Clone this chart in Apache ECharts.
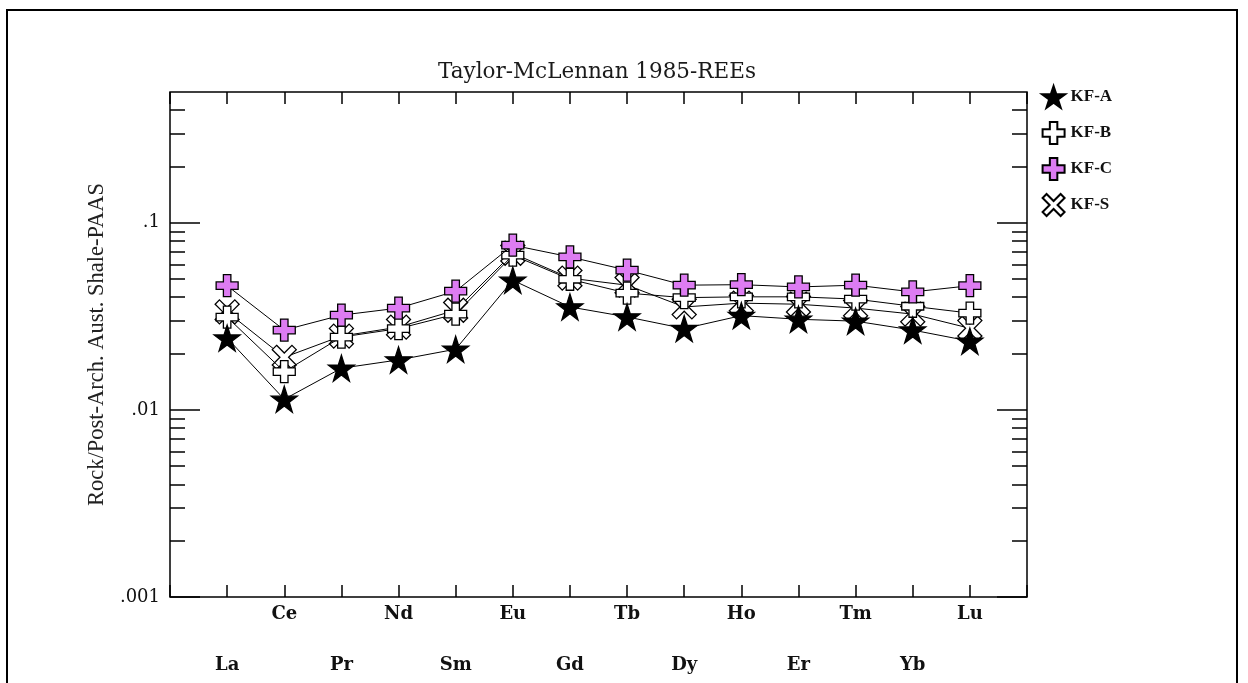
<!DOCTYPE html>
<html>
<head>
<meta charset="utf-8">
<script src="https://cdn.jsdelivr.net/npm/echarts@6/dist/echarts.min.js"></script>
<style>
html,body{margin:0;padding:0;background:#fff;}
#frame{position:absolute;left:6px;top:9px;width:1232px;height:690px;border:2px solid #000;box-sizing:border-box;}
#chart{position:absolute;left:0;top:0;width:1248px;height:683px;}
</style>
</head>
<body>
<div id="frame"></div>
<div id="chart"></div>
<script>
const categories = ['La','Ce','Pr','Nd','Sm','Eu','Gd','Tb','Dy','Ho','Er','Tm','Yb','Lu'];
const kfA = [0.0242,0.0114,0.0167,0.0185,0.0211,0.0493,0.0355,0.0314,0.0272,0.0319,0.0305,0.0298,0.0267,0.0233];
const kfB = [0.0313,0.0160,0.0245,0.0272,0.0325,0.0671,0.0499,0.0421,0.0398,0.0402,0.0402,0.0391,0.0358,0.0329];
const kfC = [0.0461,0.0267,0.0321,0.0350,0.0431,0.0759,0.0657,0.0558,0.0464,0.0467,0.0454,0.0464,0.0427,0.0461];
const kfS = [0.0334,0.0191,0.0248,0.0277,0.0341,0.0687,0.0506,0.0464,0.0355,0.0372,0.0367,0.0350,0.0325,0.0273];
const yMajorTicks = [0.001, 0.01, 0.1];
const yTickLabels = ['.001', '.01', '.1'];
const yMinorTicks = [0.002,0.003,0.004,0.005,0.006,0.007,0.008,0.009,
                     0.02,0.03,0.04,0.05,0.06,0.07,0.08,0.09,
                     0.2,0.3,0.4];

const SERIF = 'Liberation Serif';
const WIDE = 'DejaVu Serif';
const starPath = 'path://M50,0 L61.8,35.4 L99,35.4 L69,57.3 L80.4,93 L50,71 L19.6,93 L31,57.3 L1,35.4 L38.2,35.4 Z';
const plusPath = 'path://M33,0 H67 V33 H100 V67 H67 V100 H33 V67 H0 V33 H33 Z';
const xPath = 'path://M18,0 L50,32 L82,0 L100,18 L68,50 L100,82 L82,100 L50,68 L18,100 L0,82 L32,50 L0,18 Z';

const chart = echarts.init(document.getElementById('chart'), null, {renderer:'canvas'});

function mk(name, vals, symbol, fill, size, z){
  return {
    name: name, type: 'line', xAxisIndex: 0, yAxisIndex: 0,
    data: vals.map((v,i)=>[i+1, v]),
    symbol: symbol, symbolSize: size, showSymbol: true,
    lineStyle: {color:'#000', width:1},
    itemStyle: {color: fill, borderColor:'#000', borderWidth:1.3},
    emphasis: {disabled:true}, animation:false, z: z
  };
}

const axisCommonY = {
  type:'log', logBase:10, min:0.001, max:0.5, gridIndex:0,
  axisLine:{show:false}, splitLine:{show:false}, minorTick:{show:false}, minorSplitLine:{show:false}
};
const axisCommonX = {
  type:'value', min:0, max:15, interval:1, gridIndex:0,
  axisLine:{show:false}, splitLine:{show:false}
};
function tickAxis(pos, len, vals){
  return Object.assign({}, axisCommonY, {
    position:pos,
    axisTick:{show:true, inside:true, length:len, customValues:vals, lineStyle:{color:'#000', width:1.5}},
    axisLabel:{show:false}
  });
}

chart.setOption({
  animation:false,
  backgroundColor:'transparent',
  textStyle:{fontFamily:SERIF},
  title:{
    text:'Taylor-McLennan 1985-REEs', left:592, textAlign:'center', top:56,
    textStyle:{fontFamily:WIDE, fontSize:21.5, fontWeight:'normal', color:'#1a1a1a'}
  },
  legend:{
    orient:'vertical', left:1036, top:80, itemGap:12, itemWidth:24, itemHeight:22,
    textStyle:{fontFamily:SERIF, fontSize:17, fontWeight:'bold', color:'#111'},
    data:[
      {name:'KF-A', icon:starPath},
      {name:'KF-B', icon:plusPath},
      {name:'KF-C', icon:plusPath},
      {name:'KF-S', icon:xPath}
    ]
  },
  grid:{left:170, top:92, right:221, bottom:86, show:true, borderColor:'#000', borderWidth:1.5, backgroundColor:'transparent', containLabel:false},
  xAxis:[
    Object.assign({}, axisCommonX, {
      position:'bottom',
      axisTick:{show:true, inside:true, length:12, lineStyle:{color:'#000', width:1.5}},
      axisLabel:{show:true, margin:59, fontFamily:WIDE, fontSize:18, fontWeight:'bold', color:'#111',
        formatter: v => (v>=1 && v<=14 && v%2===1) ? categories[v-1] : ''}
    }),
    Object.assign({}, axisCommonX, {
      position:'bottom',
      axisTick:{show:false},
      axisLabel:{show:true, margin:8, fontFamily:WIDE, fontSize:18, fontWeight:'bold', color:'#111',
        formatter: v => (v>=1 && v<=14 && v%2===0) ? categories[v-1] : ''}
    }),
    Object.assign({}, axisCommonX, {
      position:'top',
      axisTick:{show:true, inside:true, length:12, lineStyle:{color:'#000', width:1.5}},
      axisLabel:{show:false}
    })
  ],
  yAxis:[
    Object.assign({}, axisCommonY, {
      position:'left',
      name:'Rock/Post-Arch. Aust. Shale-PAAS', nameLocation:'middle', nameGap:58, nameRotate:90,
      nameTextStyle:{fontFamily:SERIF, fontSize:22.5, color:'#222'},
      axisTick:{show:false},
      axisLabel:{show:true, margin:10, customValues:yMajorTicks, fontFamily:WIDE, fontSize:18, color:'#111',
        formatter: v => { const i = yMajorTicks.findIndex(t => Math.abs(t-v)/t < 1e-6); return i>=0 ? yTickLabels[i] : ''; }}
    }),
    tickAxis('left', 30, yMajorTicks),
    tickAxis('left', 15, yMinorTicks),
    tickAxis('right', 30, yMajorTicks),
    tickAxis('right', 15, yMinorTicks)
  ],
  series:[
    mk('KF-S', kfS, xPath, '#ffffff', 24, 2),
    mk('KF-B', kfB, plusPath, '#ffffff', 22, 3),
    mk('KF-A', kfA, starPath, '#000000', 26, 4),
    mk('KF-C', kfC, plusPath, '#dd7cf2', 22, 5)
  ]
});
</script>
</body>
</html>
